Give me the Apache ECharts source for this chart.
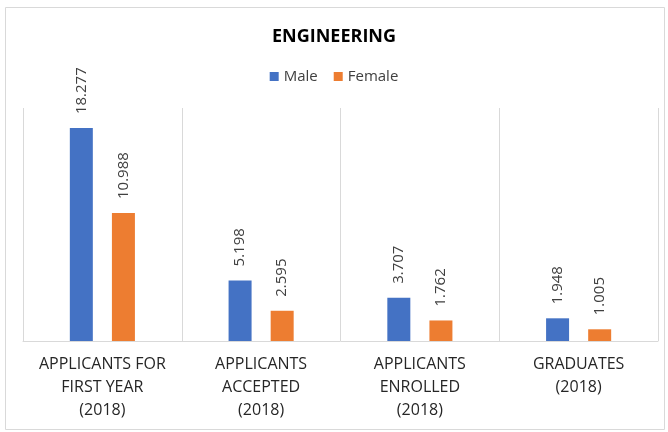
<!DOCTYPE html>
<html lang="en">
<head>
  <meta charset="UTF-8">
  <title>Engineering</title>
  <script src="https://cdn.jsdelivr.net/npm/echarts@6/dist/echarts.min.js"></script>
</head>
<body style="margin:0;">
<div id="chart" style="width: 668px;height: 432px;"></div>
<script>
  // data
  let categories = [
    'APPLICANTS FOR\nFIRST YEAR\n(2018)',
    'APPLICANTS\nACCEPTED\n(2018)',
    'APPLICANTS\nENROLLED\n(2018)',
    'GRADUATES\n(2018)'
  ];
  let maleValues = [18.277, 5.198, 3.707, 1.948];
  let femaleValues = [10.988, 2.595, 1.762, 1.005];

  let chart = echarts.init(document.getElementById('chart'));
  let labelStyle = {
    show: true,
    position: 'top',
    rotate: 90,
    align: 'left',
    verticalAlign: 'middle',
    distance: 14,
    fontFamily: 'Open Sans',
    fontSize: 15,
    color: '#404040',
    formatter: function (p) {
      return p.value.toFixed(3);
    }
  };
  let option = {
    animation: false,
    color: ['#4472C4', '#ED7D31'],
    title: {
      text: 'ENGINEERING',
      left: 'center',
      top: 23,
      textStyle: {
        fontFamily: 'Open Sans',
        fontWeight: 'bold',
        fontSize: 18,
        color: '#000'
      }
    },
    legend: {
      top: 64,
      left: 'center',
      itemWidth: 9,
      itemHeight: 9,
      itemGap: 16,
      icon: 'rect',
      textStyle: {
        fontFamily: 'Open Sans',
        fontSize: 15,
        color: '#404040'
      },
      data: ['Male', 'Female']
    },
    graphic: [{
      type: 'rect',
      shape: {x: 5.5, y: 7.5, width: 659, height: 422},
      style: {fill: 'none', stroke: '#d9d9d9', lineWidth: 1},
      silent: true
    }],
    grid: {left: 23, right: 10, top: 108, bottom: 91},
    xAxis: {
      type: 'category',
      data: categories,
      axisLine: {lineStyle: {color: '#d9d9d9'}},
      axisTick: {show: false},
      splitLine: {show: true, lineStyle: {color: '#d9d9d9'}},
      axisLabel: {
        interval: 0,
        margin: 12,
        fontFamily: 'Open Sans',
        fontSize: 16,
        lineHeight: 23,
        color: '#262626'
      }
    },
    yAxis: {
      type: 'value',
      min: 0,
      max: 20,
      show: false
    },
    series: [{
      name: 'Male',
      type: 'bar',
      data: maleValues,
      barWidth: 23,
      barGap: '83%',
      label: labelStyle
    }, {
      name: 'Female',
      type: 'bar',
      data: femaleValues,
      barWidth: 23,
      label: labelStyle
    }]
  };
  chart.setOption(option);
</script>
</body>
</html>
